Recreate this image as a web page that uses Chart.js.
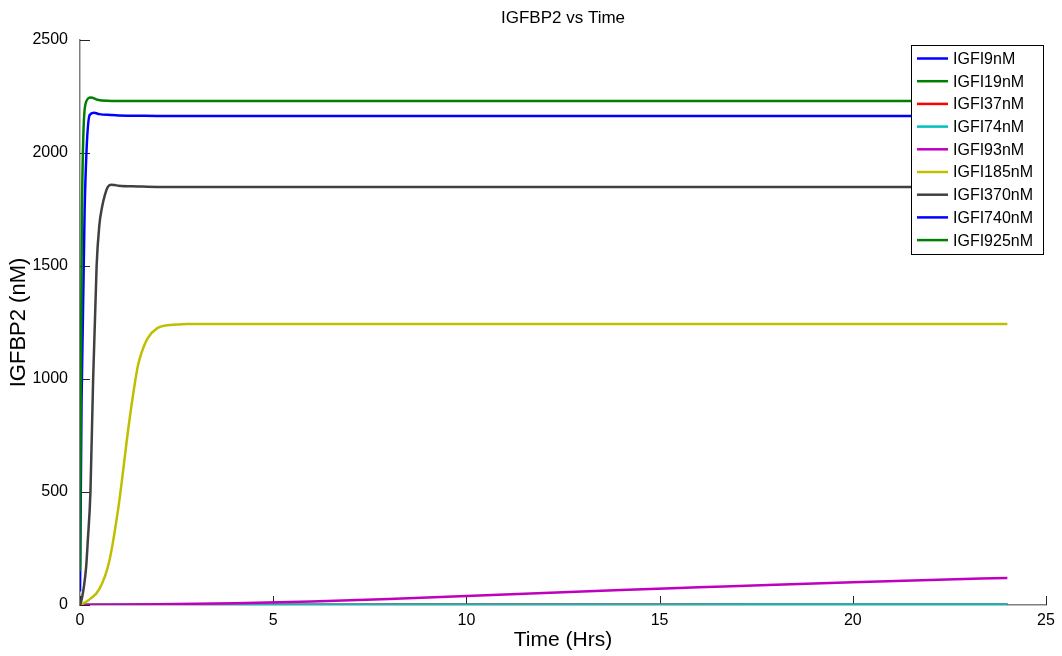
<!DOCTYPE html>
<html>
<head>
<meta charset="utf-8">
<title>IGFBP2 vs Time</title>
<script src="https://cdn.jsdelivr.net/npm/chart.js@4"></script>
<style>
  html, body { margin: 0; padding: 0; background: #fff; }
  #chart { display: block; }
</style>
</head>
<body>
<canvas id="chart" width="1062" height="656"></canvas>
<script>
const FONT = '"Liberation Sans", Arial, Helvetica, sans-serif';

// series names (legend order) and MATLAB default line colours
const seriesNames = ['IGFI9nM', 'IGFI19nM', 'IGFI37nM', 'IGFI74nM', 'IGFI93nM', 'IGFI185nM', 'IGFI370nM', 'IGFI740nM', 'IGFI925nM'];
const seriesColors = ['#0000ff', '#008000', '#ff0000', '#00bfbf', '#bf00bf', '#bfbf00', '#404040', '#0000ff', '#008000'];

// time points (hrs) and IGFBP2 (nM)
const timeLow = [0, 6, 12, 18, 24];
const igfi9 = [0, 0, 0, 0, 0];
const igfi19 = [0, 0, 0, 0, 0];
const igfi37 = [0, 0.5, 1, 1, 1];
const igfi74 = [0, 1, 1, 2, 2];

const time93 = [0, 2, 4, 6, 8, 10, 12, 14, 16, 18, 20, 22, 24];
const igfi93 = [0, 3, 8, 16, 27, 40, 53, 66, 78, 90, 101, 111, 120];

const time185 = [0, 0.25, 0.5, 0.75, 1, 1.25, 1.4, 1.5, 1.6, 1.75, 2, 2.25, 2.5, 2.75, 3, 4, 6, 8, 12, 16, 20, 24];
const igfi185 = [0, 25, 70, 188, 440, 780, 960, 1060, 1120, 1180, 1225, 1238, 1241, 1243, 1243, 1243, 1243, 1243, 1243, 1243, 1243, 1243];

const time370 = [0, 0.05, 0.1, 0.16, 0.2, 0.27, 0.34, 0.43, 0.5, 0.57, 0.65, 0.72, 0.8, 0.9, 1, 1.5, 2, 3, 4, 6, 8, 12, 16, 20, 24];
const igfi370 = [0, 30, 80, 170, 280, 500, 1000, 1500, 1680, 1760, 1818, 1850, 1860, 1858, 1855, 1852, 1850, 1850, 1850, 1850, 1850, 1850, 1850, 1850, 1850];

const time740 = [0, 0.04, 0.12, 0.25, 0.36, 0.5, 0.8, 1, 1.5, 2, 3, 4, 6, 8, 12, 16, 20, 24];
const igfi740 = [60, 900, 1750, 2168, 2178, 2172, 2168, 2166, 2165, 2164, 2164, 2164, 2164, 2164, 2164, 2164, 2164, 2164];

const time925 = [0, 0.02, 0.05, 0.16, 0.28, 0.45, 0.7, 1, 1.5, 2, 3, 4, 6, 8, 12, 16, 20, 24];
const igfi925 = [150, 900, 1748, 2227, 2246, 2236, 2231, 2230, 2230, 2230, 2230, 2230, 2230, 2230, 2230, 2230, 2230, 2230];

const xTicks = [0, 5, 10, 15, 20, 25];
const yTicks = [0, 500, 1000, 1500, 2000, 2500];

const seriesTimes = [timeLow, timeLow, timeLow, timeLow, time93, time185, time370, time740, time925];
const seriesValues = [igfi9, igfi19, igfi37, igfi74, igfi93, igfi185, igfi370, igfi740, igfi925];

function toPoints (times, values) {
  return times.map((t, i) => ({ x: t, y: values[i] }))
}

const datasets = seriesNames.map((name, i) => ({
  label: name,
  data: toPoints(seriesTimes[i], seriesValues[i]),
  borderColor: seriesColors[i],
  backgroundColor: seriesColors[i],
  borderWidth: 2.5,
  pointRadius: 0,
  cubicInterpolationMode: 'monotone',
  fill: false,
  // later series are painted on top, like MATLAB
  order: seriesNames.length - i
}));

// MATLAB-like ticks pointing into the axes
const inwardTicks = {
  id: 'inwardTicks',
  beforeDatasetsDraw (chart) {
    const { ctx, chartArea, scales: { x, y } } = chart;
    ctx.save();
    ctx.strokeStyle = '#262626';
    ctx.lineWidth = 1;
    xTicks.forEach(v => {
      const px = Math.round(x.getPixelForValue(v)) + 0.5;
      ctx.beginPath();
      ctx.moveTo(px, chartArea.bottom);
      ctx.lineTo(px, chartArea.bottom - 9);
      ctx.stroke();
    });
    yTicks.forEach(v => {
      const py = Math.round(y.getPixelForValue(v)) + 0.5;
      ctx.beginPath();
      ctx.moveTo(chartArea.left, py);
      ctx.lineTo(chartArea.left + 10, py);
      ctx.stroke();
    });
    ctx.restore();
  }
};

// plot title
const plotTitle = {
  id: 'plotTitle',
  afterDraw (chart) {
    const { ctx, chartArea } = chart;
    ctx.save();
    ctx.fillStyle = '#000';
    ctx.font = '17px ' + FONT;
    ctx.textAlign = 'center';
    ctx.textBaseline = 'middle';
    ctx.fillText('IGFBP2 vs Time', (chartArea.left + chartArea.right) / 2, 18);
    ctx.restore();
  }
};

// boxed legend in the upper right corner of the axes
const boxLegend = {
  id: 'boxLegend',
  afterDraw (chart) {
    const { ctx } = chart;
    const left = 911, top = 45, width = 132, height = 209, rowH = 22.7;
    ctx.save();
    ctx.fillStyle = '#fff';
    ctx.fillRect(left, top, width, height);
    ctx.strokeStyle = '#000';
    ctx.lineWidth = 1;
    ctx.strokeRect(left + 0.5, top + 0.5, width, height);
    ctx.font = '16px ' + FONT;
    ctx.textBaseline = 'middle';
    ctx.textAlign = 'left';
    chart.data.datasets.forEach((ds, i) => {
      const yRow = top + 13.5 + i * rowH;
      ctx.strokeStyle = ds.borderColor;
      ctx.lineWidth = 2.5;
      ctx.beginPath();
      ctx.moveTo(left + 6, yRow);
      ctx.lineTo(left + 37, yRow);
      ctx.stroke();
      ctx.fillStyle = '#000';
      ctx.fillText(ds.label, left + 42, yRow + 1);
    });
    ctx.restore();
  }
};

new Chart(document.getElementById('chart'), {
  type: 'line',
  data: { datasets },
  options: {
    responsive: false,
    animation: false,
    devicePixelRatio: 1,
    layout: { padding: { top: 40, right: 16, left: 0, bottom: 0 } },
    plugins: {
      legend: { display: false },
      tooltip: { enabled: false }
    },
    scales: {
      x: {
        type: 'linear',
        min: 0,
        max: 25,
        afterBuildTicks: scale => { scale.ticks = xTicks.map(v => ({ value: v })) },
        afterFit: scale => { scale.height = 51 },
        grid: { display: false },
        border: { display: true, color: '#7f7f7f', width: 1.5 },
        ticks: { color: '#000', font: { family: FONT, size: 16 }, padding: -2, maxRotation: 0, callback: v => String(v) },
        title: { display: true, text: 'Time (Hrs)', color: '#000', font: { family: FONT, size: 21 }, padding: { top: 0, bottom: 3 } }
      },
      y: {
        type: 'linear',
        min: 0,
        max: 2500,
        afterBuildTicks: scale => { scale.ticks = yTicks.map(v => ({ value: v })) },
        afterFit: scale => { scale.width = 80 },
        grid: { display: false },
        border: { display: true, color: '#7f7f7f', width: 1.5 },
        ticks: { color: '#000', font: { family: FONT, size: 16 }, padding: 4, callback: v => String(v) },
        title: { display: true, text: 'IGFBP2 (nM)', color: '#000', font: { family: FONT, size: 22 }, padding: { top: 6, bottom: 0 } }
      }
    }
  },
  plugins: [inwardTicks, plotTitle, boxLegend]
});
</script>
</body>
</html>
